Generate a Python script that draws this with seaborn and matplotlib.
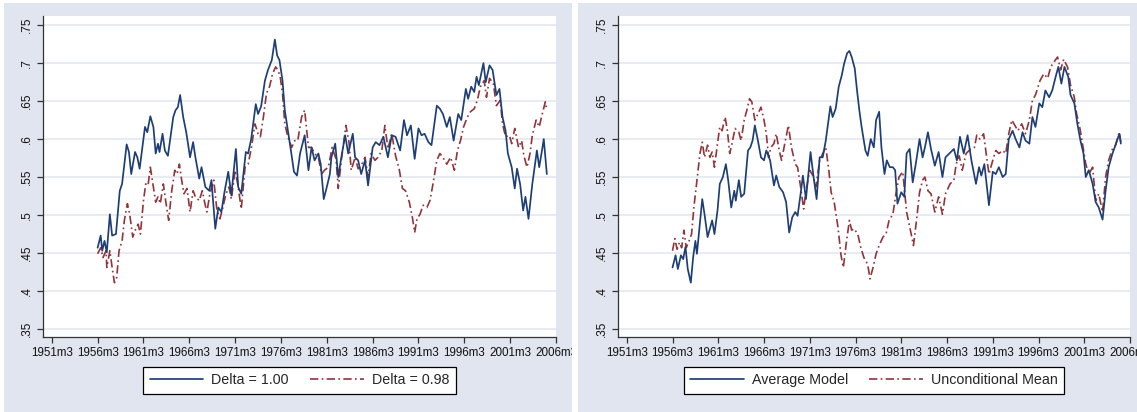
import pandas as pd
import matplotlib
matplotlib.use("Agg")
import matplotlib.pyplot as plt
from matplotlib.patches import Rectangle
import seaborn as sns

# x values are Stata monthly dates (months since 1960m1), 1956m3 = -46
# --- left panel: Delta = 1.00 / Delta = 0.98 ---
d100_tm = [-46, -42, -40, -37, -34, -30, -27, -22, -17, -14, -8, -5, -2, 3, 6, 9, 16, 19, 23, 27,
           30, 33, 35, 39, 42, 46, 53, 56, 59, 62, 66, 70, 75, 79, 82, 87, 90, 95, 100, 103,
           108, 112, 116, 120, 125, 129, 135, 138, 142, 148, 151, 155, 161, 164, 168, 173, 177, 182, 186, 189,
           192, 196, 199, 202, 207, 211, 215, 219, 225, 230, 234, 238, 243, 246, 250, 254, 258,
           260, 265, 269, 273, 278, 282, 288, 291, 295, 299, 304, 308, 314, 318, 323, 328, 334, 339, 344, 350,
           355, 359, 364, 369, 374, 378, 382, 387, 391, 398, 402, 406, 411, 415, 420, 426, 430, 436, 439, 443,
           447, 450, 453, 459, 462, 467, 471, 476, 480, 484, 488, 491, 496, 500, 503, 507, 511, 514, 518, 523,
           529, 532, 535, 538, 542]
d100_val = [.457, .473, .453, .466, .451, .501, .473, .475, .532, .541, .593, .583, .554, .583, .576, .561, .616, .609, .630, .616,
            .581, .594, .583, .607, .585, .578, .629, .638, .642, .658, .629, .609, .576, .596, .576, .548, .563, .537, .532, .546,
            .482, .510, .504, .530, .557, .526, .587, .537, .528, .583, .581, .600, .646, .633, .643, .677, .691, .704, .731, .710,
            .704, .677, .638, .618, .585, .557, .552, .581, .605, .559, .589, .572, .581, .567, .521, .537, .554,
            .576, .594, .550, .576, .605, .581, .607, .576, .572, .554, .572, .539, .589, .596, .592, .603, .576, .605, .603, .585,
            .625, .605, .618, .574, .614, .605, .607, .596, .592, .644, .640, .633, .616, .629, .598, .633, .625, .666, .653, .669,
            .662, .682, .671, .700, .675, .697, .691, .658, .666, .629, .611, .581, .563, .535, .561, .541, .506, .524, .495, .541,
            .585, .563, .581, .600, .554]

d098_tm = [-46, -42, -39, -35, -34, -30, -27, -24, -21, -18, -14, -11, -7, -4, 0, 4, 7, 10, 14, 17,
           20, 23, 27, 30, 33, 36, 40, 43, 47, 51, 55, 58, 61, 64, 67, 71, 75, 79, 82, 87,
           91, 94, 97, 101, 106, 110, 114, 117, 122, 126, 129, 134, 138, 142, 147, 151, 155, 160, 164, 167,
           171, 175, 179, 183, 187, 190, 193, 196, 199, 203, 208, 212, 216, 221, 225, 230, 234, 238, 243, 247,
           251, 256,
           261, 266, 269, 273, 279, 283, 286, 291, 295, 299, 304, 308, 312, 317, 321, 326, 330, 334, 339, 344,
           349, 353, 357, 362, 366, 369, 372, 376, 380, 385, 389, 393, 398, 402, 406, 411, 416, 421, 425, 429,
           433, 438, 442, 447, 451, 455, 460, 463, 467, 472, 476, 481, 484, 488, 493, 496, 500, 505, 509, 512,
           516, 520, 523, 528, 532, 536, 540, 542]
d098_val = [.449, .457, .444, .453, .431, .453, .431, .411, .418, .453, .466, .493, .515, .501, .471, .482, .488, .475, .519, .541,
            .539, .563, .537, .517, .524, .515, .541, .519, .493, .532, .559, .554, .567, .546, .528, .535, .504, .532, .524, .519,
            .532, .517, .504, .528, .546, .508, .495, .506, .528, .537, .521, .559, .537, .508, .563, .567, .587, .620, .607, .603,
            .629, .660, .669, .686, .695, .691, .682, .660, .620, .603, .589, .598, .598, .629, .638, .589, .589, .581, .576, .554,
            .559, .563,
            .589, .574, .535, .572, .618, .596, .559, .576, .561, .565, .576, .550, .581, .572, .576, .585, .618, .587, .607, .578,
            .559, .535, .532, .517, .497, .477, .495, .501, .513, .510, .519, .541, .572, .581, .576, .567, .576, .559, .585, .598,
            .616, .629, .636, .640, .651, .669, .677, .655, .680, .673, .644, .651, .620, .603, .605, .594, .614, .589, .598, .578,
            .563, .581, .605, .625, .616, .633, .649, .638]

# --- right panel: Average Model / Unconditional Mean ---
avg_tm = [-46, -42, -39, -35, -32, -29, -26, -22, -19, -16, -14, -7, -4, 0, 3, 6, 9, 13, 16, 20,
          24, 27, 31, 35, 37, 41, 44, 48, 53, 56, 59, 62, 66, 70, 74, 77, 82, 87, 90, 94,
          99, 103, 107, 111, 115, 118, 122, 125, 129, 135, 139, 143, 147, 151, 155, 161, 164, 168, 172, 176,
          179, 183, 186, 189, 193, 196, 199, 202, 207, 210, 214, 218, 221, 225, 228, 232, 235, 239, 243, 246,
          249, 254, 258,
          261, 265, 269, 273, 278, 282, 285, 289, 293, 298, 303, 308, 312, 317, 323, 327, 331, 336, 341, 346,
          352, 356, 359, 363, 369, 374, 378, 382, 387, 391, 395, 400, 404, 409, 413, 417, 422, 426, 430, 435,
          439, 443, 448, 452, 457, 460, 464, 468, 473, 476, 481, 485, 489, 493, 496, 500, 505, 509, 513, 518,
          522, 526, 531, 535, 540, 542]
avg_val = [.431, .447, .429, .447, .442, .458, .429, .411, .444, .466, .449, .521, .501, .471, .482, .493, .475, .506, .541, .550,
           .567, .546, .510, .532, .519, .546, .524, .528, .585, .589, .598, .618, .598, .576, .572, .585, .572, .539, .552, .537,
           .530, .517, .477, .497, .504, .499, .528, .552, .521, .583, .550, .521, .576, .576, .598, .643, .629, .640, .669, .684,
           .699, .713, .716, .708, .693, .664, .638, .616, .585, .578, .600, .589, .625, .636, .589, .554, .572, .563, .563, .559,
           .515, .530, .524,
           .581, .587, .543, .567, .600, .576, .589, .609, .587, .565, .583, .550, .576, .581, .587, .572, .603, .581, .605, .572,
           .541, .563, .552, .567, .513, .557, .554, .563, .550, .554, .600, .611, .600, .589, .609, .598, .594, .629, .616, .647,
           .642, .664, .655, .664, .684, .695, .673, .695, .682, .658, .647, .620, .598, .581, .550, .559, .541, .517, .510, .494,
           .532, .563, .581, .592, .607, .594]

unc_tm = [-46, -43, -40, -37, -34, -31, -28, -25, -21, -18, -14, -10, -7, -4, 0, 3, 6, 9, 13, 16,
          19, 23, 26, 29, 32, 36, 41, 44, 48, 52, 55, 58, 62, 66, 70, 74, 77, 80, 83, 87,
          90, 94, 97, 102, 106, 110, 115, 118, 122, 126, 129, 134, 138, 142, 147, 151, 155, 159, 162, 166,
          171, 175, 178, 182, 186, 189, 192, 197, 201, 205, 210, 213, 217, 221, 225, 230, 234, 238, 243, 247,
          251, 256,
          261, 266, 270, 274, 278, 282, 285, 289, 293, 298, 303, 308, 312, 318, 323, 326, 330, 334, 339, 345,
          350, 353, 357, 362, 366, 369, 374, 378, 382, 387, 391, 395, 399, 403, 407, 412, 417, 422, 426, 430,
          436, 441, 446, 450, 454, 459, 463, 467, 472, 476, 481, 484, 488, 492, 496, 500, 505, 509, 513, 518,
          522, 526, 531, 535, 540, 542]
unc_val = [.453, .469, .455, .464, .457, .480, .457, .464, .475, .510, .546, .581, .596, .576, .592, .576, .583, .563, .594, .616,
           .611, .629, .611, .581, .594, .614, .609, .598, .625, .640, .653, .649, .625, .633, .642, .625, .607, .576, .589, .594,
           .607, .585, .572, .598, .618, .589, .567, .563, .537, .508, .532, .559, .552, .537, .572, .581, .589, .559, .530, .517,
           .484, .447, .431, .464, .493, .480, .482, .475, .457, .444, .435, .416, .431, .449, .460, .471, .475, .493, .501, .528,
           .550, .557,
           .504, .480, .460, .493, .530, .546, .550, .532, .528, .504, .524, .501, .528, .541, .546, .567, .578, .559, .581, .587,
           .589, .605, .600, .607, .576, .554, .572, .585, .581, .585, .581, .607, .625, .618, .611, .620, .607, .625, .651, .658,
           .677, .686, .680, .695, .701, .708, .691, .705, .695, .671, .655, .633, .616, .592, .567, .554, .563, .519, .528, .504,
           .550, .572, .587, .592, .609, .596]

x_ticks = [-106, -46, 14, 74, 134, 194, 254, 314, 374, 434, 494, 554]
x_labels = ["1951m3", "1956m3", "1961m3", "1966m3", "1971m3", "1976m3",
            "1981m3", "1986m3", "1991m3", "1996m3", "2001m3", "2006m3"]
y_ticks = [.35, .40, .45, .50, .55, .60, .65, .70, .75]
y_labels = [".35", ".4", ".45", ".5", ".55", ".6", ".65", ".7", ".75"]

NAVY = "#1f3f74"
MAROON = "#90353b"
BG = "#e0e5ef"
GRID = "#e6e9f0"

sns.set_theme(style="white")
plt.rcParams["font.family"] = ["Liberation Sans", "DejaVu Sans"]

W, H = 1137, 412
fig = plt.figure(figsize=(W / 100, H / 100), dpi=100)

# stata-like graph region backgrounds
fig.add_artist(Rectangle((4 / W, 0), 568 / W, 409 / H, transform=fig.transFigure,
                         facecolor=BG, edgecolor="none", zorder=-5))
fig.add_artist(Rectangle((578 / W, 0), 559 / W, 409 / H, transform=fig.transFigure,
                         facecolor=BG, edgecolor="none", zorder=-5))


def draw_panel(left_px, width_px, tm1, v1, lab1, tm2, v2, lab2):
    ax = fig.add_axes([left_px / W, 75 / H, width_px / W, 321 / H])
    ax.set_facecolor("white")
    df1 = pd.DataFrame({"tm": tm1, "val": v1})
    df2 = pd.DataFrame({"tm": tm2, "val": v2})
    sns.lineplot(data=df1, x="tm", y="val", ax=ax, color=NAVY, linewidth=1.25,
                 estimator=None, label=lab1, zorder=3)
    sns.lineplot(data=df2, x="tm", y="val", ax=ax, color=MAROON, linewidth=1.2,
                 estimator=None, label=lab2, zorder=2)
    ax.lines[-1].set_dashes([5, 2, 1, 2])

    ax.set_xlim(-117.5, 554)
    ax.set_ylim(.3395, .762)
    ax.set_xticks(x_ticks)
    ax.set_xticklabels(x_labels, fontsize=8.4)
    ax.set_yticks(y_ticks)
    ax.set_yticklabels(y_labels, fontsize=8.5, rotation=90, va="center")
    ax.set_xlabel("")
    ax.set_ylabel("")

    ax.yaxis.grid(True, color=GRID, linewidth=1.3)
    ax.xaxis.grid(False)
    ax.set_axisbelow(True)
    sns.despine(ax=ax)
    for s in ["left", "bottom"]:
        ax.spines[s].set_color("#333333")
        ax.spines[s].set_linewidth(0.9)
    ax.tick_params(axis="both", direction="out", length=4, width=0.9,
                   color="#333333", labelcolor="#111111", pad=3,
                   bottom=True, left=True)

    cx = (left_px + width_px / 2) / W
    leg = ax.legend(loc="center", bbox_to_anchor=(cx, 0.0765),
                    bbox_transform=fig.transFigure, ncol=2, fontsize=10.3,
                    frameon=True, fancybox=False, framealpha=1,
                    edgecolor="black", handlelength=3.75, handletextpad=0.55,
                    columnspacing=1.5, borderpad=0.45)
    leg.get_frame().set_linewidth(0.9)
    return ax


draw_panel(43, 513, d100_tm, d100_val, "Delta = 1.00", d098_tm, d098_val, "Delta = 0.98")
draw_panel(618, 512, avg_tm, avg_val, "Average Model", unc_tm, unc_val, "Unconditional Mean")

# white gap between the two graph regions (also clips the last tick label)
fig.add_artist(Rectangle((572 / W, 0), 6 / W, 1, transform=fig.transFigure,
                         facecolor="white", edgecolor="none", zorder=10))

fig.savefig("out.png", dpi=100)
